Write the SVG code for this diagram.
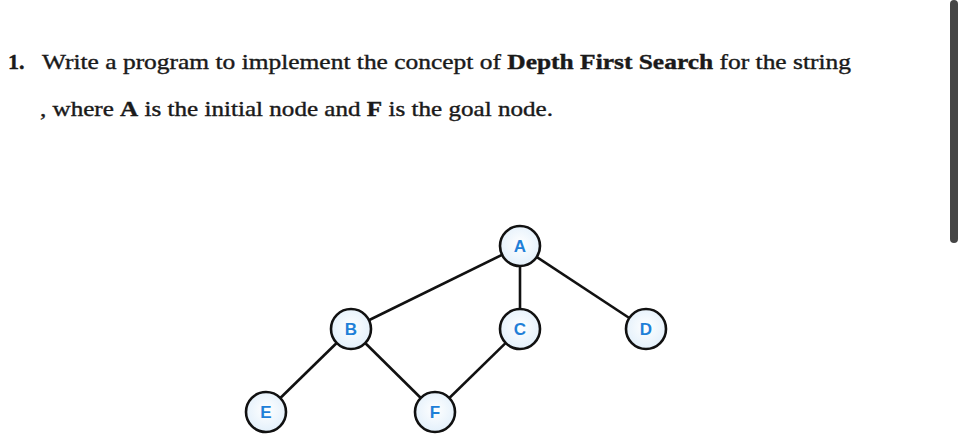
<svg xmlns="http://www.w3.org/2000/svg" width="963" height="444" viewBox="0 0 963 444">
<defs>
<radialGradient id="nf" cx="50%" cy="45%" r="55%">
<stop offset="0" stop-color="#ffffff"/>
<stop offset="1" stop-color="#e3f0fb"/>
</radialGradient>
<style>
.n circle{fill:url(#nf);stroke:#111;stroke-width:2.6}
.n text{font-size:17px;font-family:Arial,'Liberation Sans',sans-serif;font-weight:700;fill:#1f80d8;text-anchor:middle}
.t{font-family:'Times New Roman','Liberation Serif',Times,serif;font-size:22px;fill:#1a1a1a;stroke:#1a1a1a;stroke-width:0.4}
#edges line{stroke:#111;stroke-width:2.6}
</style>
</defs>
<rect width="963" height="444" fill="#fff"/>
<rect x="950" y="0" width="8" height="243" rx="4" fill="#454545"/>
<text class="t" x="8" y="69" font-weight="bold">1.</text>
<text class="t" x="42" y="69" textLength="809" lengthAdjust="spacingAndGlyphs">Write a program to implement the concept of <tspan font-weight="bold">Depth First Search</tspan>  for the string</text>
<text class="t" x="40" y="116" textLength="513" lengthAdjust="spacingAndGlyphs">, where <tspan font-weight="bold">A</tspan> is the initial node and <tspan font-weight="bold">F</tspan> is the goal node.</text>
<g id="edges">
<line x1="520" y1="246" x2="351" y2="329"/>
<line x1="520" y1="246" x2="520" y2="329"/>
<line x1="520" y1="246" x2="646" y2="329"/>
<line x1="351" y1="329" x2="266" y2="412"/>
<line x1="351" y1="329" x2="435" y2="412"/>
<line x1="520" y1="329" x2="435" y2="412"/>
</g>
<g id="node-A" class="n"><circle cx="520" cy="246" r="20"/><text x="520" y="252">A</text></g>
<g id="node-B" class="n"><circle cx="351" cy="329" r="20"/><text x="351" y="335">B</text></g>
<g id="node-C" class="n"><circle cx="520" cy="329" r="20"/><text x="520" y="335">C</text></g>
<g id="node-D" class="n"><circle cx="646" cy="329" r="20"/><text x="646" y="335">D</text></g>
<g id="node-E" class="n"><circle cx="266" cy="412" r="20"/><text x="266" y="418">E</text></g>
<g id="node-F" class="n"><circle cx="435" cy="412" r="20"/><text x="435" y="418">F</text></g>
</svg>
